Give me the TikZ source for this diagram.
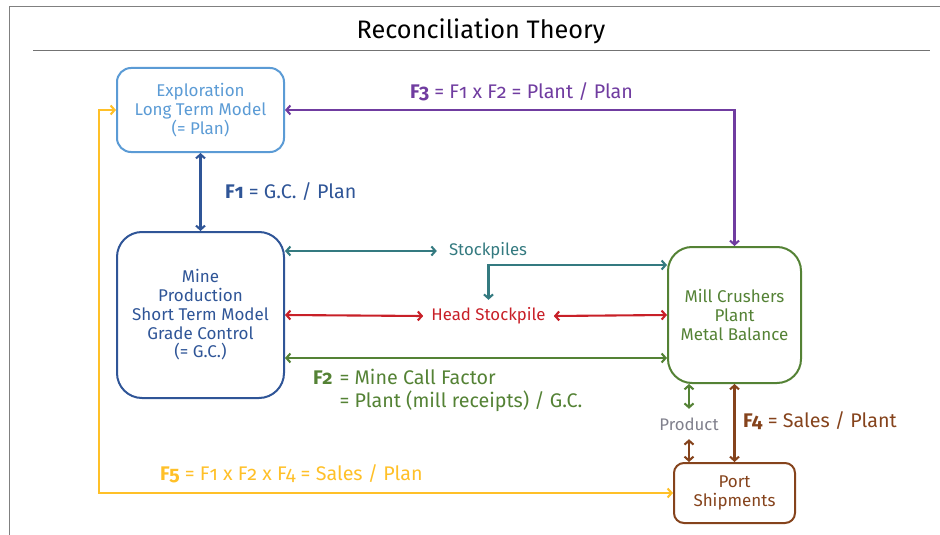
\documentclass[tikz,border=0pt]{standalone}
\usepackage{fontspec}
\setmainfont[Numbers=OldStyle]{Fira Sans}
\usepackage{tikz}
\usetikzlibrary{calc}
\usetikzlibrary{arrows.meta}
\usetikzlibrary{positioning}
\usepackage{color}
\definecolor{expblue}{RGB}{91, 155, 213}
\definecolor{mineblue}{RGB}{47, 85, 151}
\definecolor{millgreen}{RGB}{84, 130, 53}
\definecolor{portbrown}{RGB}{133, 67, 28}
\definecolor{purp}{RGB}{112, 60, 160}
\definecolor{tealc}{RGB}{52, 122, 128}
\definecolor{redc}{RGB}{200, 32, 40}
\definecolor{yell}{RGB}{255, 192, 40}
\definecolor{prodgray}{RGB}{128, 128, 140}
\tikzset{
  boxnode/.style={draw, line width=2pt, align=center, inner sep=0pt,
                  font=\fontsize{17}{18.7}\selectfont},
  arr/.style={line width=2.1pt, {Straight Barb[length=4pt,width=9pt]}-{Straight Barb[length=4pt,width=9pt]}},
  lbl/.style={inner sep=0pt, font=\fontsize{19.7}{21}\selectfont},
  midlbl/.style={inner sep=0pt, font=\fontsize{16.8}{19}\selectfont}
}

\begin{document}
\begin{tikzpicture}[x=1pt, y=-1pt]
            \useasboundingbox (0,0) rectangle (940,535);
            % frame and title
            \draw[gray, line width=1pt] (9,535) -- (9,7) -- (940,7);
            \node (title) at (481,31) {\fontsize{25.3}{30}\selectfont Reconciliation Theory};
            \draw[gray!90!black, line width=0.8pt] (33,50) -- (930,50);
            % boxes
            \node[boxnode, color=expblue, rounded corners=14pt, minimum width=167pt, minimum height=84pt]
                 (expl) at (200.5,110) {Exploration\\Long Term Model\\(= Plan)};
            \node[boxnode, color=mineblue, rounded corners=25pt, minimum width=167pt, minimum height=166pt]
                 (mine) at (200.5,315) {Mine\\Production\\Short Term Model\\Grade Control\\(= G.C.)};
            \node[boxnode, color=millgreen, rounded corners=24pt, minimum width=133pt, minimum height=136pt]
                 (mill) at (734.5,315) {Mill Crushers\\Plant\\Metal Balance};
            \node[boxnode, color=portbrown, rounded corners=10pt, minimum width=121pt, minimum height=60pt]
                 (port) at (734.5,493) {Port\\Shipments};
            % middle nodes
            \node[midlbl, color=tealc, inner xsep=12pt] (stk) at (488,251) {Stockpiles};
            \node[midlbl, color=redc, inner xsep=8pt, minimum height=32pt] (head) at (488.5,316) {Head Stockpile};
            \node[midlbl, color=prodgray, minimum height=30pt] (prod) at (689,424) {Product};
            % connectors
            \draw[arr, color=purp] (expl.east) -| (mill.north);
            \draw[arr, color=mineblue] (expl.south) -- (mine.north);
            \draw[arr, color=tealc] (mine.east |- stk.west) -- (stk.west);
            \draw[arr, color=tealc] (head.north) |- ([yshift=50pt]mill.west);
            \draw[arr, color=redc] (mine.east) -- (head.west);
            \draw[arr, color=redc] (head.east) -- (mill.west);
            \draw[arr, color=millgreen] ([yshift=-43pt]mine.east) -- ([yshift=-43pt]mill.west);
            \draw[arr, color=millgreen] (mill.south -| prod.north) -- (prod.north);
            \draw[arr, color=portbrown] (prod.south) -- (port.north -| prod.south);
            \draw[arr, color=portbrown] (mill.south) -- (port.north);
            \coordinate (ycorner) at (99,493);
            \draw[arr, color=yell] (expl.west) -- (ycorner |- expl.west) -- (ycorner) -- (port.west);
            % factor labels
            \node[lbl, color=purp] (f3) at (521.5,92) {\textbf{F3} = F1 x F2 = Plant / Plan};
            \node[lbl, color=mineblue, anchor=west] (f1) at (225,192) {\textbf{F1} = G.C. / Plan};
            \node[lbl, color=millgreen, anchor=north west] (f2) at (313,369)
                 {\begin{tabular}{@{}l@{\hspace{7pt}}l}\textbf{F2} & = Mine Call Factor\\ & = Plant (mill receipts) / G.C.\end{tabular}};
            \node[lbl, color=portbrown, anchor=west] (f4) at (743,421) {\textbf{F4} = Sales / Plant};
            \node[lbl, color=yell, anchor=west] (f5) at (160,474) {\textbf{F5} = F1 x F2 x F4 = Sales / Plan};
        \end{tikzpicture}
\end{document}
